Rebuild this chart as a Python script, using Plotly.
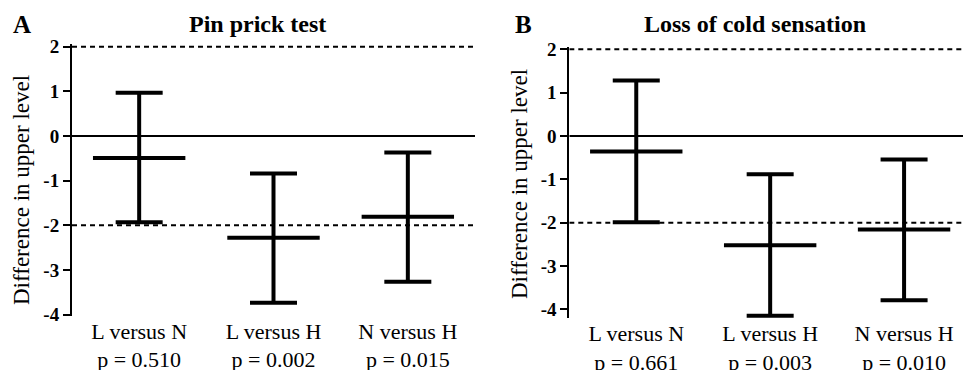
import plotly.graph_objects as go

# ---- data ----
categories = ["L versus N", "L versus H", "N versus H"]
pvals_a = ["p = 0.510", "p = 0.002", "p = 0.015"]
pvals_b = ["p = 0.661", "p = 0.003", "p = 0.010"]

mean_a = [-0.49, -2.28, -1.81]
upper_a = [0.97, -0.84, -0.37]
lower_a = [-1.93, -3.73, -3.26]

mean_b = [-0.36, -2.52, -2.16]
upper_b = [1.28, -0.88, -0.54]
lower_b = [-1.99, -4.15, -3.79]

y_ticks = [-4, -3, -2, -1, 0, 1, 2]
y_ticklabels = ["-4", "-3", "-2", "-1", "0", "1", "2"]
ref_solid = [0]
ref_dashed = [-2, 2]

W, H = 963, 370
FONT = "Liberation Serif, Times New Roman, serif"

fig = go.Figure()

def add_panel(mean, upper, lower, xa, ya):
    xs = list(range(len(mean)))
    fig.add_trace(go.Scatter(
        x=xs, y=mean, mode="markers", xaxis=xa, yaxis=ya,
        marker=dict(symbol="line-ew", size=66, color="black",
                    line=dict(width=4, color="black")),
        error_y=dict(type="data", symmetric=False,
                     array=[u - m for u, m in zip(upper, mean)],
                     arrayminus=[m - l for m, l in zip(mean, lower)],
                     width=23.5, thickness=4, color="black"),
        showlegend=False, hoverinfo="skip", cliponaxis=False))

add_panel(mean_a, upper_a, lower_a, "x", "y")
add_panel(mean_b, upper_b, lower_b, "x2", "y2")

def px_x(p):
    return p / W

def px_y(p):
    return 1 - p / H

tick_font = dict(family=FONT, size=19, color="black", weight="bold")
lab_font = dict(family=FONT, size=22, color="black")

common_x = dict(tickvals=[0, 1, 2], showline=False, ticks="", showgrid=False,
                zeroline=False, tickfont=lab_font, automargin=False)
common_y = dict(tickvals=y_ticks, ticktext=y_ticklabels, ticks="outside", ticklen=7, tickwidth=2,
                tickcolor="black", showline=True, linewidth=2, linecolor="black",
                showgrid=False, zeroline=False, tickfont=tick_font, automargin=False)

layout = dict(
    width=W, height=H, margin=dict(l=0, r=0, t=0, b=0, autoexpand=False),
    paper_bgcolor="white", plot_bgcolor="white",
    xaxis=dict(domain=[px_x(72), px_x(475)], range=[-0.5, 2.5],
               ticktext=[f"{c}<br>{p}" for c, p in zip(categories, pvals_a)],
               anchor="y", **common_x),
    yaxis=dict(domain=[px_y(315.6), px_y(44.4)], range=[-4.02, 2.05],
               anchor="x", **common_y),
    xaxis2=dict(domain=[px_x(569.3), 1.0], range=[-0.5, 2.44],
                ticktext=[f"{c}<br>{p}" for c, p in zip(categories, pvals_b)],
                anchor="y2", **common_x),
    yaxis2=dict(domain=[px_y(318), px_y(47.2)], range=[-4.2, 2.05],
                anchor="x2", **common_y),
)
fig.update_layout(**layout)

shapes = []
for xr, yr in (("x", "y"), ("x2", "y2")):
    for v in ref_solid:
        shapes.append(dict(type="line", xref=xr, yref=yr, x0=-0.5, x1=2.6, y0=v, y1=v,
                           line=dict(color="black", width=2), layer="below"))
    for v in ref_dashed:
        shapes.append(dict(type="line", xref=xr, yref=yr, x0=-0.5, x1=2.6, y0=v, y1=v,
                           line=dict(color="black", width=2, dash="5px,4px"), layer="below"))
fig.update_layout(shapes=shapes)

ann = []
title_font = dict(family=FONT, size=24, color="black", weight="bold")
ann.append(dict(text="Pin prick test", x=px_x(257), y=px_y(24), xref="paper", yref="paper",
                showarrow=False, font=title_font, xanchor="center", yanchor="middle"))
ann.append(dict(text="Loss of cold sensation", x=px_x(755), y=px_y(24), xref="paper", yref="paper",
                showarrow=False, font=title_font, xanchor="center", yanchor="middle"))
ann.append(dict(text="A", x=px_x(22), y=px_y(25), xref="paper", yref="paper",
                showarrow=False, font=dict(family=FONT, size=25, color="black", weight="bold"),
                xanchor="center", yanchor="middle"))
ann.append(dict(text="B", x=px_x(523), y=px_y(25), xref="paper", yref="paper",
                showarrow=False, font=dict(family=FONT, size=25, color="black", weight="bold"),
                xanchor="center", yanchor="middle"))
ytitle_font = dict(family=FONT, size=23, color="black")
ann.append(dict(text="Difference in upper level", x=px_x(21), y=px_y(190), xref="paper", yref="paper",
                showarrow=False, font=ytitle_font, textangle=-90, xanchor="center", yanchor="middle"))
ann.append(dict(text="Difference in upper level", x=px_x(519), y=px_y(184), xref="paper", yref="paper",
                showarrow=False, font=ytitle_font, textangle=-90, xanchor="center", yanchor="middle"))
fig.update_layout(annotations=ann)

fig.write_html("out.html", post_script="document.body.style.margin='0';",
               config={"displayModeBar": False})
